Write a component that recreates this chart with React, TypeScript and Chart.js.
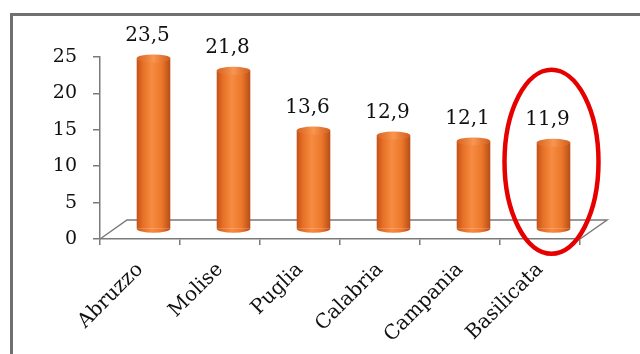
import React, { useEffect, useRef } from "react";
import { Chart, registerables } from "chart.js";

Chart.register(...registerables);

const categories = ["Abruzzo", "Molise", "Puglia", "Calabria", "Campania", "Basilicata"];
const values = [23.5, 21.8, 13.6, 12.9, 12.1, 11.9];
const valueLabels = ["23,5", "21,8", "13,6", "12,9", "12,1", "11,9"];
const yMin = 0;
const yMax = 25;
const yStep = 5;
const highlightedIndex = 5;
const highlightCenterValue = 10.6;

const DEPTH_X = 27;
const DEPTH_Y = 19;
const BAR_PCT = 0.42;
const SERIF = "'DejaVu Serif', 'Liberation Serif', serif";

function barGradient(ctx: CanvasRenderingContext2D, x: number, w: number) {
  const g = ctx.createLinearGradient(x - w / 2, 0, x + w / 2, 0);
  g.addColorStop(0, "#c2521a");
  g.addColorStop(0.18, "#e66f26");
  g.addColorStop(0.45, "#f68c42");
  g.addColorStop(0.75, "#ec772a");
  g.addColorStop(1, "#b64c17");
  return g;
}

function topGradient(ctx: CanvasRenderingContext2D, x: number, w: number) {
  const g = ctx.createLinearGradient(x - w / 2, 0, x + w / 2, 0);
  g.addColorStop(0, "#d9621f");
  g.addColorStop(0.5, "#f89650");
  g.addColorStop(1, "#d25c1c");
  return g;
}

const depthPlugin = {
  id: "depth3d",
  beforeDraw(chart: any) {
    const ctx = chart.ctx as CanvasRenderingContext2D;
    ctx.save();
    ctx.fillStyle = "#ffffff";
    ctx.fillRect(0, 0, chart.width, chart.height);
    ctx.strokeStyle = "#707070";
    ctx.lineWidth = 3;
    ctx.beginPath();
    ctx.moveTo(11.5, chart.height);
    ctx.lineTo(11.5, 14.5);
    ctx.lineTo(chart.width, 14.5);
    ctx.stroke();
    ctx.restore();
  },
  beforeDatasetsDraw(chart: any) {
    const ctx = chart.ctx as CanvasRenderingContext2D;
    const { left, right, bottom } = chart.chartArea;
    ctx.save();
    ctx.strokeStyle = "#7a7a7a";
    ctx.lineWidth = 1.5;
    ctx.beginPath();
    ctx.moveTo(left, bottom);
    ctx.lineTo(left + DEPTH_X, bottom - DEPTH_Y);
    ctx.lineTo(right + DEPTH_X, bottom - DEPTH_Y);
    ctx.lineTo(right, bottom);
    ctx.stroke();
    ctx.restore();
    ctx.save();
    ctx.translate(DEPTH_X / 2, -DEPTH_Y / 2);
  },
  afterDatasetsDraw(chart: any) {
    const ctx = chart.ctx as CanvasRenderingContext2D;
    const meta = chart.getDatasetMeta(0);
    meta.data.forEach((el: any) => {
      const x = el.x, y = el.y, base = el.base, w = el.width;
      const rx = w / 2, ry = 4;
      ctx.fillStyle = barGradient(ctx, x, w);
      ctx.beginPath();
      ctx.ellipse(x, base, rx, ry, 0, 0, Math.PI);
      ctx.fill();
      ctx.fillStyle = topGradient(ctx, x, w);
      ctx.beginPath();
      ctx.ellipse(x, y, rx, ry, 0, 0, Math.PI * 2);
      ctx.fill();
    });
    ctx.restore();

    ctx.save();
    ctx.fillStyle = "#111111";
    ctx.font = `20px ${SERIF}`;
    ctx.textAlign = "center";
    ctx.textBaseline = "middle";
    meta.data.forEach((el: any, i: number) => {
      ctx.fillText(valueLabels[i], el.x + 7.5, el.y - 32.5);
    });
    ctx.restore();
  },
  afterDraw(chart: any) {
    const ctx = chart.ctx as CanvasRenderingContext2D;
    const el = chart.getDatasetMeta(0).data[highlightedIndex];
    if (!el) return;
    const cy = chart.scales.y.getPixelForValue(highlightCenterValue);
    ctx.save();
    ctx.strokeStyle = "#e60000";
    ctx.lineWidth = 4.5;
    ctx.beginPath();
    ctx.ellipse(el.x + 11.5, cy, 47, 92, 0, 0, Math.PI * 2);
    ctx.stroke();
    ctx.restore();
  },
};

export default function App() {
  const ref = useRef<HTMLCanvasElement | null>(null);
  useEffect(() => {
    if (!ref.current) return;
    const chart = new Chart(ref.current, {
      type: "bar",
      data: {
        labels: categories,
        datasets: [
          {
            data: values,
            backgroundColor: (c: any) => {
              const ch = c.chart;
              const xs = ch.scales?.x;
              if (!xs || !ch.chartArea) return "#ee7a2c";
              const x = xs.getPixelForValue(c.dataIndex);
              const w = (ch.chartArea.width / categories.length) * BAR_PCT;
              return barGradient(ch.ctx, x, w);
            },
            borderWidth: 0,
            barPercentage: BAR_PCT,
            categoryPercentage: 1,
          },
        ],
      },
      options: {
        responsive: false,
        animation: false,
        events: [],
        layout: { padding: { left: 0, top: 57, right: 60, bottom: 0 } },
        plugins: { legend: { display: false }, tooltip: { enabled: false } },
        scales: {
          x: {
            offset: true,
            afterFit: (axis: any) => {
              axis.height = 354 - 239;
            },
            grid: {
              offset: true,
              drawOnChartArea: false,
              drawTicks: true,
              tickLength: 6,
              color: "#7a7a7a",
              lineWidth: 1.5,
            },
            border: { display: true, color: "#7a7a7a", width: 1.5 },
            ticks: {
              color: "#111111",
              font: { family: SERIF, size: 20 },
              minRotation: 45,
              maxRotation: 45,
              autoSkip: false,
              padding: 13,
            },
          },
          y: {
            min: yMin,
            max: yMax,
            afterFit: (axis: any) => {
              axis.width = 100;
            },
            grid: {
              drawOnChartArea: false,
              drawTicks: true,
              tickLength: 7,
              color: "#7a7a7a",
              lineWidth: 1.5,
            },
            border: { display: true, color: "#7a7a7a", width: 1.5 },
            ticks: {
              stepSize: yStep,
              color: "#111111",
              font: { family: SERIF, size: 19 },
              padding: 16,
            },
          },
        },
      },
      plugins: [depthPlugin],
    });
    return () => chart.destroy();
  }, []);
  return (
    <div style={{ position: "fixed", left: 0, top: 0, width: 640, height: 354 }}>
      <canvas ref={ref} width={640} height={354} style={{ display: "block", width: 640, height: 354 }} />
    </div>
  );
}
